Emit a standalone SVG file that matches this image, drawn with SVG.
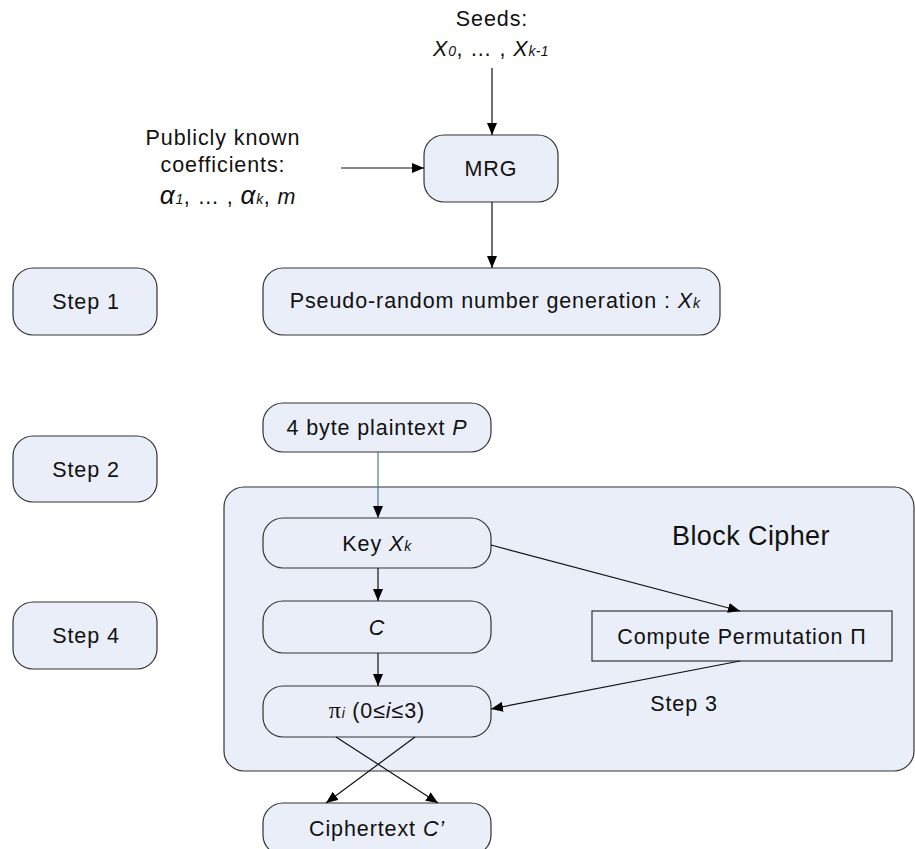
<svg xmlns="http://www.w3.org/2000/svg" width="915" height="849" viewBox="0 0 915 849">
  <style>
    .box { fill: #e9eef8; stroke: #333333; stroke-width: 1.2; }
    .t { font-family: "Liberation Sans", Arial, sans-serif; font-size: 21.5px; letter-spacing: 0.9px; fill: #111111; text-anchor: middle; }
    .it { font-style: italic; }
    .sub { font-size: 14px; font-style: italic; letter-spacing: 0.4px; }
    .big { font-size: 27px; letter-spacing: 0.4px; }
    .wire { stroke: #111111; stroke-width: 1.2; fill: none; marker-end: url(#arrow); }
    .blue { stroke: #4f73a0; }
  </style>
  <defs>
    <marker id="arrow" viewBox="0 0 12 10" refX="12" refY="5" markerWidth="12" markerHeight="10" markerUnits="userSpaceOnUse" orient="auto">
      <path d="M0,0 L12,5 L0,10 Z" fill="#000000"/>
    </marker>
  </defs>

  <rect width="915" height="849" fill="#ffffff"/>

  <!-- free-standing labels -->
  <g id="seeds">
    <text class="t" x="492" y="26">Seeds:</text>
    <text class="t" x="491" y="56"><tspan class="it">X</tspan><tspan class="sub">0</tspan>, … , <tspan class="it">X</tspan><tspan class="sub">k-1</tspan></text>
  </g>
  <g id="coefficients">
    <text class="t" x="223" y="145">Publicly known</text>
    <text class="t" x="223" y="172">coefficients:</text>
    <text class="t" x="228" y="204"><tspan class="it" font-size="26">α</tspan><tspan class="sub">1</tspan>, … , <tspan class="it" font-size="26">α</tspan><tspan class="sub">k</tspan>, <tspan class="it">m</tspan></text>
  </g>

  <!-- step markers -->
  <g id="step1">
    <rect class="box" x="13" y="268" width="144" height="67" rx="20"/>
    <text class="t" x="86" y="309">Step 1</text>
  </g>
  <g id="step2">
    <rect class="box" x="13" y="436" width="144" height="66" rx="20"/>
    <text class="t" x="86" y="477">Step 2</text>
  </g>
  <g id="step4">
    <rect class="box" x="13" y="602" width="144" height="67" rx="20"/>
    <text class="t" x="86" y="643">Step 4</text>
  </g>

  <!-- key generation -->
  <g id="mrg">
    <rect class="box" x="424" y="135" width="134" height="67" rx="20"/>
    <text class="t" x="491" y="176">MRG</text>
  </g>
  <g id="prng">
    <rect class="box" x="263" y="268" width="457" height="67" rx="20"/>
    <text class="t" x="495" y="308">Pseudo-random number generation  : <tspan class="it">X</tspan><tspan class="sub">k</tspan></text>
  </g>

  <g id="plaintext">
    <rect class="box" x="263" y="403" width="228" height="49" rx="20"/>
    <text class="t" x="377" y="435">4 byte plaintext <tspan class="it">P</tspan></text>
  </g>

  <!-- block cipher container -->
  <g id="block-cipher">
    <rect class="box" x="224" y="487" width="690" height="284" rx="20"/>
    <text class="t big" x="751" y="545">Block Cipher</text>
  </g>
  <g id="key">
    <rect class="box" x="263" y="518" width="228" height="50" rx="20"/>
    <text class="t" x="377" y="551">Key <tspan class="it">X</tspan><tspan class="sub">k</tspan></text>
  </g>
  <g id="c">
    <rect class="box" x="263" y="601" width="228" height="52" rx="20"/>
    <text class="t it" x="377" y="635">C</text>
  </g>
  <g id="pi">
    <rect class="box" x="263" y="686" width="228" height="51" rx="20"/>
    <text class="t" x="377" y="718"><tspan font-family="Liberation Serif, serif" font-size="24">π</tspan><tspan class="sub">i</tspan> (0≤<tspan class="it">i</tspan>≤3)</text>
  </g>
  <g id="permutation">
    <rect class="box" x="592" y="611" width="300" height="50"/>
    <text class="t" x="742" y="644">Compute Permutation  Π</text>
  </g>
  <g id="step3">
    <text class="t" x="684" y="711">Step 3</text>
  </g>

  <g id="ciphertext">
    <rect class="box" x="263" y="803" width="228" height="52" rx="20"/>
    <text class="t" x="377" y="836">Ciphertext <tspan class="it">C’</tspan></text>
  </g>

  <!-- connectors -->
  <g id="connectors">
    <line class="wire" x1="492" y1="68" x2="492" y2="135"/>
    <line class="wire" x1="341" y1="168" x2="424" y2="168"/>
    <line class="wire" x1="492" y1="202" x2="492" y2="268"/>
    <line class="wire blue" x1="378" y1="452" x2="378" y2="518"/>
    <line class="wire" x1="378" y1="568" x2="378" y2="601"/>
    <line class="wire" x1="378" y1="653" x2="378" y2="686"/>
    <line class="wire" x1="491" y1="545" x2="740" y2="611"/>
    <line class="wire" x1="740" y1="661" x2="491" y2="709"/>
    <line class="wire" x1="336" y1="737" x2="438" y2="803"/>
    <line class="wire" x1="415" y1="737" x2="326" y2="803"/>
  </g>
</svg>
